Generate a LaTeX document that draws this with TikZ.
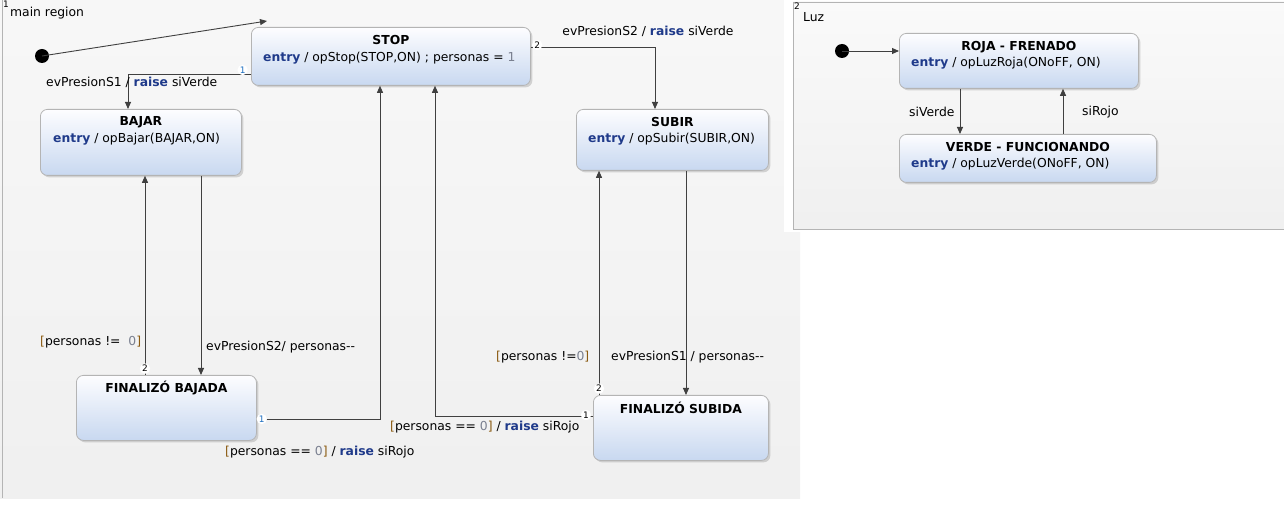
\documentclass[tikz,border=0pt]{standalone}
\usepackage{fontspec}
\setmainfont{DejaVu Sans}
\usetikzlibrary{arrows.meta,calc,shadows}
\definecolor{kw}{HTML}{1F3A8A}
\definecolor{numc}{HTML}{7A8090}
\definecolor{brk}{HTML}{8A5A10}
\definecolor{linec}{HTML}{404040}
\definecolor{boxtop}{HTML}{FDFDFF}
\definecolor{boxbot}{HTML}{C8D8F0}
\definecolor{boxedge}{HTML}{B4B4B4}
\definecolor{portblue}{HTML}{2070C0}
\newcommand{\kwd}[1]{\textcolor{kw}{\textbf{#1}}}
\newcommand{\nmb}[1]{\textcolor{numc}{#1}}
\newcommand{\lb}{\textcolor{brk}{[}}
\newcommand{\rb}{\textcolor{brk}{]}}
\begin{document}
\begin{tikzpicture}[x=1bp,y=-1bp,
  every node/.style={font=\fontsize{12.4}{14}\selectfont, inner sep=0pt},
  statebox/.style={draw=boxedge, line width=0.8bp, rounded corners=7bp,
    top color=boxtop, bottom color=boxbot, anchor=north west,
    drop shadow={shadow xshift=2bp, shadow yshift=-2bp, opacity=0.25, fill=black!60}},
  stitle/.style={font=\fontsize{12.4}{14}\selectfont\bfseries, anchor=center},
  sentry/.style={anchor=west},
  trans/.style={draw=linec, line width=0.9bp, -{Triangle[length=7bp,width=6bp]}},
  tlabel/.style={anchor=center},
  port/.style={font=\fontsize{9}{10}\selectfont, fill=white, circle, inner sep=0.6bp},
  initdot/.style={circle, fill=black, minimum size=14bp, inner sep=0pt},
  regionlabel/.style={anchor=west}
]
\useasboundingbox (0,0) rectangle (1284,520);
\fill[white] (0,0) rectangle (1284,520);
% main region
\shade[top color=white!97!black, bottom color=white!94!black] (0,0) rectangle (800,498);
\draw[boxedge] (2,0) -- (2,498);
\fill[white] (784,0) rectangle (1284,232);
% Luz region
\shade[top color=white!98!black, bottom color=white!94!black] (793,2) rectangle (1290,229);
\draw[boxedge] (1290,2) -- (793,2) -- (793,229) -- (1290,229);
\node[font=\fontsize{9}{10}\selectfont, anchor=north west] (mrnum) at (3,1) {1};
\node[regionlabel] (mrlab) at (10,13) {main region};
\node[font=\fontsize{9}{10}\selectfont, anchor=north west] (luznum) at (794,3) {2};
\node[regionlabel] (luzlab) at (803,17) {Luz};

% states
\node[statebox, minimum width=279bp, minimum height=58bp] (stop) at (251,27) {};
\node[stitle] (stopT) at ($(stop.north)+(0,13)$) {STOP};
\node[sentry] (stopE) at ($(stop.north west)+(12,31)$) {\kwd{entry} / opStop(STOP,ON) ; personas = \nmb{1}};

\node[statebox, minimum width=201bp, minimum height=66bp] (bajar) at (40,109) {};
\node[stitle] (bajarT) at ($(bajar.north)+(0,13)$) {BAJAR};
\node[sentry] (bajarE) at ($(bajar.north west)+(13,30)$) {\kwd{entry} / opBajar(BAJAR,ON)};

\node[statebox, minimum width=192bp, minimum height=61bp] (subir) at (576,109) {};
\node[stitle] (subirT) at ($(subir.north)+(0,13)$) {SUBIR};
\node[sentry] (subirE) at ($(subir.north west)+(12,30)$) {\kwd{entry} / opSubir(SUBIR,ON)};

\node[statebox, minimum width=180bp, minimum height=65bp] (fb) at (76,375) {};
\node[stitle] (fbT) at ($(fb.north)+(0,13)$) {FINALIZÓ BAJADA};

\node[statebox, minimum width=175bp, minimum height=65bp] (fs) at (593,395) {};
\node[stitle] (fsT) at ($(fs.north)+(0,13)$) {FINALIZÓ SUBIDA};

\node[statebox, minimum width=239bp, minimum height=55bp] (roja) at (899,33) {};
\node[stitle] (rojaT) at ($(roja.north)+(0,14)$) {ROJA - FRENADO};
\node[sentry] (rojaE) at ($(roja.north west)+(12,30)$) {\kwd{entry} / opLuzRoja(ONoFF, ON)};

\node[statebox, minimum width=257bp, minimum height=48bp] (verde) at (899,134) {};
\node[stitle] (verdeT) at ($(verde.north)+(0,13)$) {VERDE - FUNCIONANDO};
\node[sentry] (verdeE) at ($(verde.north west)+(12,30)$) {\kwd{entry} / opLuzVerde(ONoFF, ON)};

% initial states
\node[initdot] (init1) at (42,56) {};
\node[initdot] (init2) at (842,51) {};

% transitions
\draw[trans] (init1.center) -- ($(stop.north west)+(16,-6)$);
\draw[trans] (init2.center) -- ($(roja.north west)+(0,18)$);

\coordinate (a1) at ($(stop.north west)+(0,47)$);
\coordinate (b1) at ($(bajar.north west)+(88,0)$);
\draw[trans] (a1) -| (b1);
\node[port, text=portblue, anchor=east] (p1) at ($(a1)+(-3,-4)$) {1};
\node[tlabel, anchor=west] (l1) at (46,82) {evPresionS1 / \kwd{raise} siVerde};

\coordinate (a2) at ($(stop.north east)+(0,20)$);
\coordinate (b2) at ($(subir.north west)+(79,0)$);
\draw[trans] (a2) -| (b2);
\node[port, anchor=west] (p2) at ($(a2)+(1,-2)$) {2};
\node[tlabel, anchor=center] (l2) at (648,31) {evPresionS2 / \kwd{raise} siVerde};

\coordinate (a3) at ($(bajar.south west)+(161,0)$);
\draw[trans] (a3) -- (a3 |- fb.north);
\node[tlabel, anchor=west] (l3) at (206,347) {evPresionS2/ personas-{}-};

\coordinate (a4) at ($(fb.north west)+(69,0)$);
\draw[trans] (a4) -- (a4 |- bajar.south);
\node[port, anchor=south] (p4) at ($(a4)+(0,-1)$) {2};
\node[tlabel, anchor=west] (l4) at (40,342) {\lb personas != ~\nmb{0}\rb};

\coordinate (a5) at ($(fb.north east)+(0,44)$);
\coordinate (b5) at ($(stop.south west)+(129,0)$);
\draw[trans] (a5) -| (b5);
\node[port, text=portblue, anchor=center] (p5) at ($(a5)+(5,0)$) {1};
\node[tlabel, anchor=west] (l5) at (225,452) {\lb personas == \nmb{0}\rb{} / \kwd{raise} siRojo};

\coordinate (a6) at ($(subir.south west)+(110,0)$);
\draw[trans] (a6) -- (a6 |- fs.north);
\node[tlabel, anchor=west] (l6) at (611,357) {evPresionS1 / personas-{}-};

\coordinate (a7) at ($(fs.north west)+(6,0)$);
\draw[trans] (a7) -- (a7 |- subir.south);
\node[port, anchor=south] (p7) at ($(a7)+(0,-1)$) {2};
\node[tlabel, anchor=west] (l7) at (496,357) {\lb personas !=\nmb{0}\rb};

\coordinate (a8) at ($(fs.north west)+(0,21)$);
\coordinate (b8) at ($(stop.south west)+(184,0)$);
\draw[trans] (a8) -| (b8);
\node[port, anchor=center] (p8) at ($(a8)+(-7,-1)$) {1};
\node[tlabel, anchor=west] (l8) at (390,427) {\lb personas == \nmb{0}\rb{} / \kwd{raise} siRojo};

\coordinate (a9) at ($(roja.south west)+(61,0)$);
\draw[trans] (a9) -- (a9 |- verde.north);
\node[tlabel, anchor=west] (l9) at (909,112) {siVerde};

\coordinate (a10) at ($(verde.north west)+(164,0)$);
\draw[trans] (a10) -- (a10 |- roja.south);
\node[tlabel, anchor=west] (l10) at (1082,112) {siRojo};
\end{tikzpicture}
\end{document}
